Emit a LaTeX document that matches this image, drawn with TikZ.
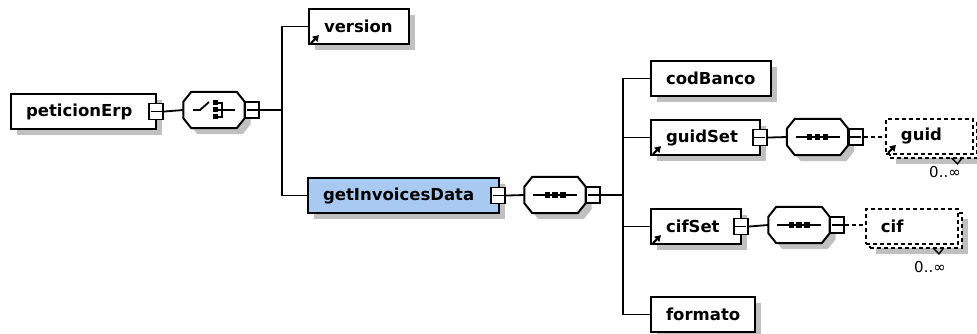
\documentclass[tikz,border=0pt]{standalone}
\usepackage{fontspec}
\setmainfont{DejaVu Sans}
\usetikzlibrary{calc,shadows,arrows.meta}
\definecolor{shd}{RGB}{192,192,192}
\definecolor{selblue}{RGB}{168,202,240}
\newcommand\xoct[1]{%
 \fill[shd] ($(#1.north west)+(14,6)$) -- ($(#1.north east)+(-2,6)$) -- ($(#1.north east)+(6,16)$) -- ($(#1.south east)+(6,-4)$) -- ($(#1.south east)+(-2,6)$) -- ($(#1.south west)+(14,6)$) -- ($(#1.south west)+(6,-4)$) -- ($(#1.north west)+(6,16)$) -- cycle;
 \filldraw[fill=white, line width=2pt] ($(#1.north west)+(8,0)$) -- ($(#1.north east)+(-8,0)$) -- ($(#1.north east)+(0,10)$) -- ($(#1.south east)+(0,-10)$) -- ($(#1.south east)+(-8,0)$) -- ($(#1.south west)+(8,0)$) -- ($(#1.south west)+(0,-10)$) -- ($(#1.north west)+(0,10)$) -- cycle;}
\newcommand\xseqicon[1]{%
 \draw[line width=1.8pt] ($(#1.center)+(-22,0)$) -- ($(#1.center)+(22,0)$);
 \fill ($(#1.center)+(-10.5,-2.7)$) rectangle ++(5.4,5.4);
 \fill ($(#1.center)+(-2.7,-2.7)$) rectangle ++(5.4,5.4);
 \fill ($(#1.center)+(5.1,-2.7)$) rectangle ++(5.4,5.4);}
\newcommand\xchoiceicon[1]{%
 \draw[line width=1.8pt] ($(#1.center)+(-21,0)$) -- ($(#1.center)+(-14,0)$) -- ($(#1.center)+(-5,-8)$);
 \fill ($(#1.center)+(-1.5,-9.5)$) rectangle ++(5,5);
 \fill ($(#1.center)+(-1.5,-2.5)$) rectangle ++(5,5);
 \fill ($(#1.center)+(-1.5,4.5)$) rectangle ++(5,5);
 \draw[line width=1.8pt] ($(#1.center)+(3,-7)$) -- ($(#1.center)+(8,-7)$) -- ($(#1.center)+(8,7)$) -- ($(#1.center)+(3,7)$);
 \draw[line width=1.8pt] ($(#1.center)+(3,0)$) -- ($(#1.center)+(21,0)$);}
\begin{document}
\begin{tikzpicture}[x=1pt,y=-1pt,
 every node/.style={inner sep=0pt},
 elem/.style={draw, line width=2.1pt, fill=white, anchor=north west, minimum height=35pt, inner xsep=15pt, align=left, font=\fontsize{16.5}{18}\selectfont\bfseries, drop shadow={shadow xshift=6pt, shadow yshift=-6pt, opacity=1, fill=shd}},
 repback/.style={draw, line width=1.9pt, dash pattern=on 4pt off 3pt, fill=white, anchor=north west, minimum height=35pt, inner xsep=15pt, drop shadow={shadow xshift=6pt, shadow yshift=-6pt, opacity=1, fill=shd}},
 repfront/.style={draw, line width=1.9pt, dash pattern=on 4pt off 3pt, fill=white, anchor=north west, minimum height=35pt, inner xsep=15pt, align=left, font=\fontsize{16.5}{18}\selectfont\bfseries},
 octn/.style={minimum width=61pt, minimum height=36pt},
 minus/.style={draw, fill=white, line width=1.8pt, minimum width=14pt, minimum height=16pt, path picture={\draw[line width=1.8pt] ([xshift=1.5pt]path picture bounding box.west) -- ([xshift=-1.5pt]path picture bounding box.east);}},
 conn/.style={line width=1.8pt},
 dconn/.style={line width=1.8pt, dash pattern=on 4pt off 3pt},
 icon/.style={line width=2.1pt, -{Triangle[length=6pt,width=7pt]}},
 lbl/.style={font=\fontsize{15}{18}\selectfont},
 tick/.style={line width=1.4pt}]
\fill[white] (0,0) rectangle (977,334);
\path[use as bounding box] (0,0) rectangle (977,334);
\coordinate (j1) at (282,0);
\coordinate (j2) at (623,0);
% root
\node[elem, text width=115pt] (pet) at (10,93) {peticionErp};
\node[minus] (petm) at ($(pet.east)+(-1,0)$) {};
\node[octn] (ch) at (214,110) {};
\xoct{ch}
\xchoiceicon{ch}
\node[minus] (chm) at ($(ch.east)+(7.5,0)$) {};
\draw[conn] (petm.east) -- (ch.west);
\draw[conn] (chm.east) -- (chm.east -| j1);
% version
\node[elem, text width=70pt] (ver) at (308,8) {version};
\draw[icon] ($(ver.south west)+(3,-2)$) -- ++(8,-8);
% getInvoicesData
\node[elem, fill=selblue, text width=161pt] (gid) at (307,177) {getInvoicesData};
\node[minus] (gidm) at ($(gid.east)+(-2,0)$) {};
\draw[conn] (ver.west) -- (ver.west -| j1) -- (gid.west -| j1) -- (gid.west);
\node[octn] (sq1) at (555,195) {};
\xoct{sq1}
\xseqicon{sq1}
\node[minus] (sq1m) at ($(sq1.east)+(7.5,0)$) {};
\draw[conn] (gidm.east) -- (sq1.west);
\draw[conn] (sq1m.east) -- (sq1m.east -| j2);
% children
\node[elem, text width=90pt] (cod) at (650,60) {codBanco};
\node[elem, text width=79pt] (gs) at (650,119) {guidSet};
\draw[icon] ($(gs.south west)+(3,-2)$) -- ++(8,-8);
\node[minus] (gsm) at ($(gs.east)+(-1.5,0)$) {};
\node[elem, text width=60pt] (cs) at (650,208) {cifSet};
\draw[icon] ($(cs.south west)+(3,-2)$) -- ++(8,-8);
\node[minus] (csm) at ($(cs.east)+(-1.5,0)$) {};
\node[elem, text width=74pt] (fmt) at (650,296) {formato};
\draw[conn] (cod.west) -- (cod.west -| j2) -- (fmt.west -| j2) -- (fmt.west);
\draw[conn] (gs.west) -- (gs.west -| j2);
\draw[conn] (cs.west) -- (cs.west -| j2);
% guidSet sequence
\node[octn] (sq2) at (817.5,137) {};
\xoct{sq2}
\xseqicon{sq2}
\node[minus] (sq2m) at ($(sq2.east)+(7.5,0)$) {};
\draw[conn] (gsm.east) -- (sq2.west);
\node[repback, text width=57pt] (guidb) at (889,122) {};
\node[repfront, text width=57pt] (guid) at (885,118) {guid};
\draw[icon] ($(guid.south west)+(3,-2)$) -- ++(8,-8);
\draw[dconn] (sq2m.east) -- (sq2m.east -| guid.west);
\draw[tick] ($(guidb.south)+(18,-1)$) -- ($(guidb.south)+(24,5)$) -- ($(guidb.south)+(28,0)$);
\node[lbl] (l1) at (945,172) {0..∞};
% cifSet sequence
\node[octn] (sq3) at (799,225) {};
\xoct{sq3}
\xseqicon{sq3}
\node[minus] (sq3m) at ($(sq3.east)+(7.5,0)$) {};
\draw[conn] (csm.east) -- (sq3.west);
\node[repback, text width=62pt] (cifb) at (869,212) {};
\node[repfront, text width=62pt] (cif) at (865,208) {cif};
\draw[dconn] (sq3m.east) -- (sq3m.east -| cif.west);
\draw[tick] ($(cifb.south)+(17,-1)$) -- ($(cifb.south)+(23,5)$) -- ($(cifb.south)+(27,0)$);
\node[lbl] (l2) at (930,267) {0..∞};
\end{tikzpicture}
\end{document}
